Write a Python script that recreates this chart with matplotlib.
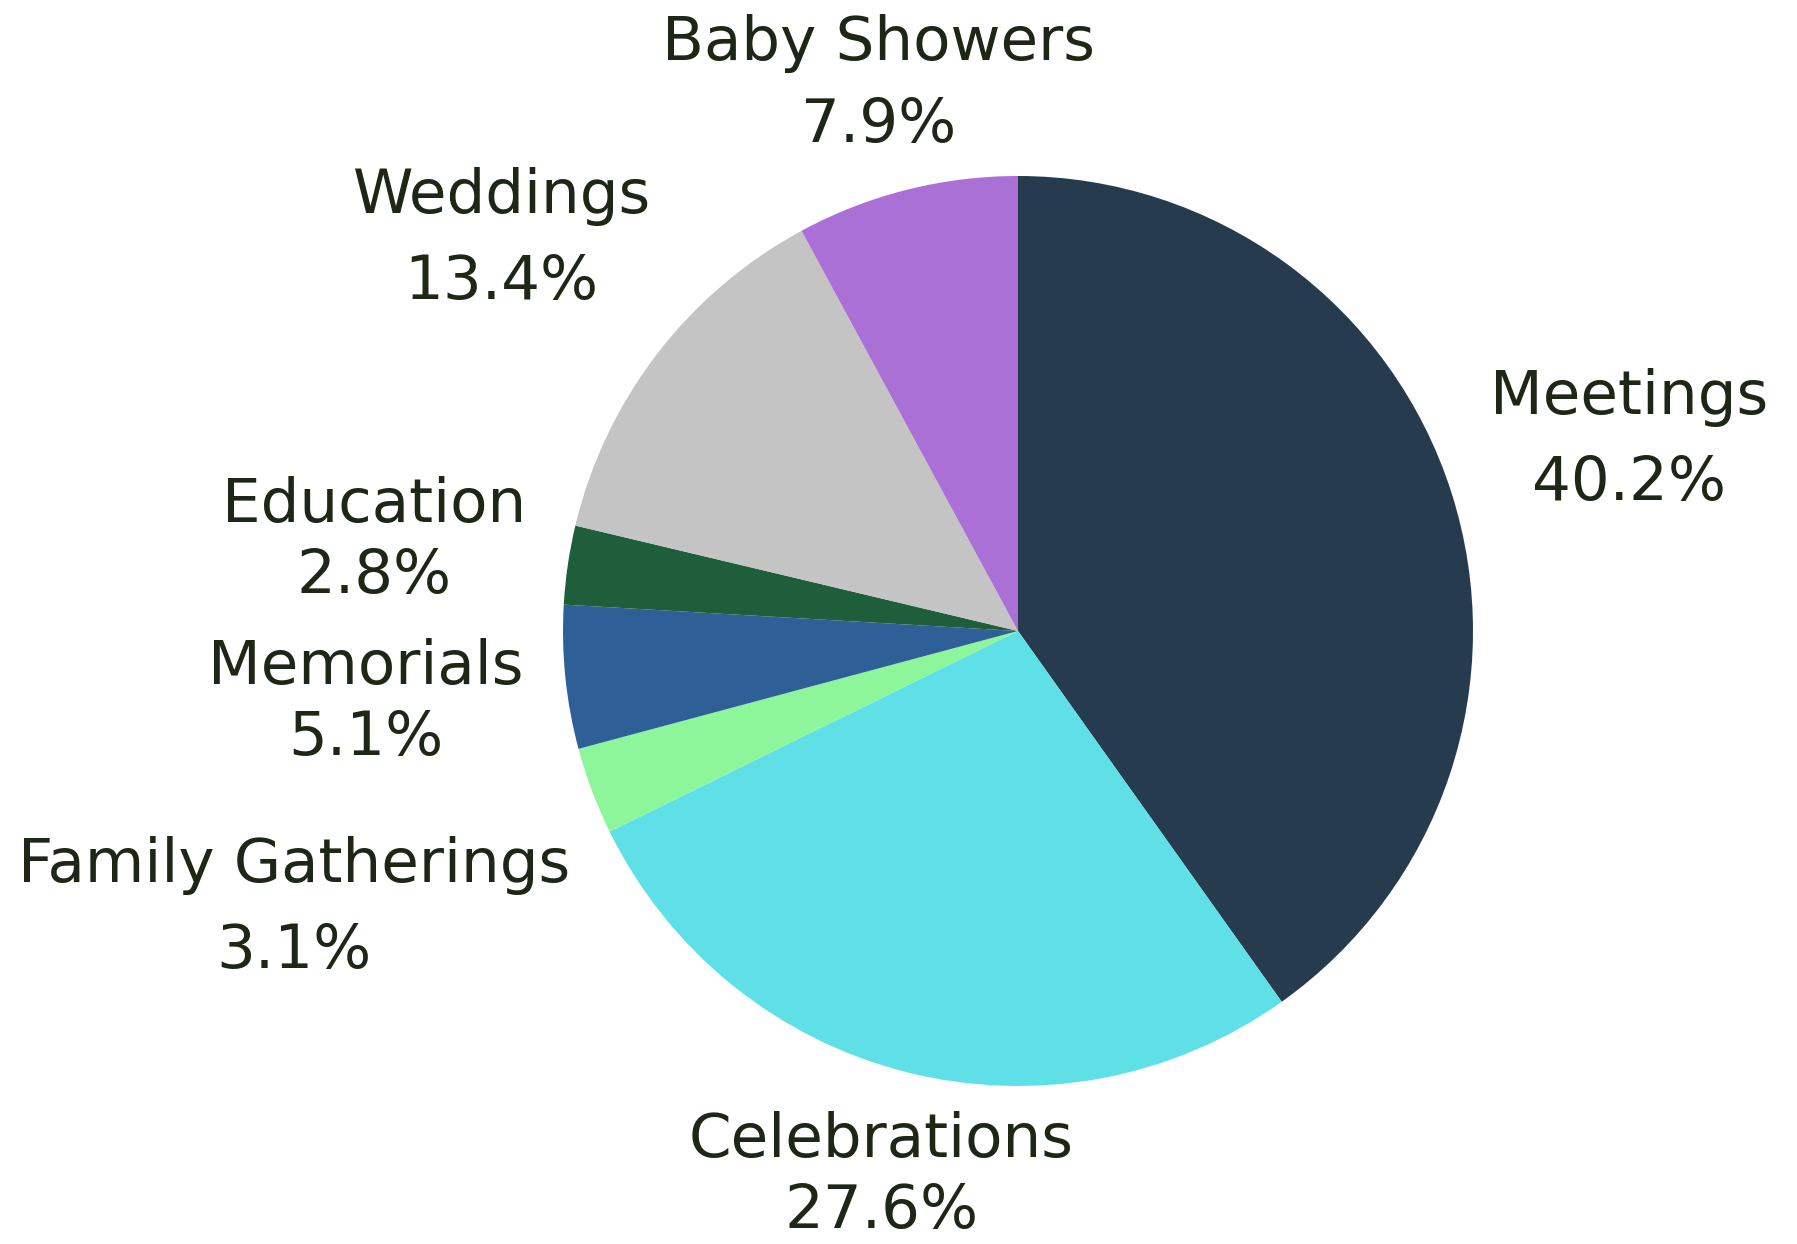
import numpy as np
import matplotlib
matplotlib.use("Agg")
import matplotlib.pyplot as plt

categories = ["Meetings", "Celebrations", "Family Gatherings", "Memorials",
              "Education", "Weddings", "Baby Showers"]
values = [40.2, 27.6, 3.1, 5.1, 2.8, 13.4, 7.9]
colors = ["#263c4e", "#5ee0e6", "#8df59a", "#2e6097", "#1e5e3a", "#c4c4c4", "#ab70d6"]

# label placement (style): distance factor and line gap per label
label_dist = [1.41, 1.225, 1.70, 1.44, 1.43, 1.43, 1.25]
label_gap = [0.189, 0.156, 0.189, 0.156, 0.156, 0.189, 0.181]

W, H = 1797, 1244
cx, cy, R = 1018, 631, 455
fig = plt.figure(figsize=(W / 100, H / 100), dpi=100)
ax = fig.add_axes([0, 0, 1, 1])
wedges, _ = ax.pie(values, colors=colors, startangle=90, counterclock=False,
                   radius=1, center=(0, 0))
ax.set_xlim(-cx / R, (W - cx) / R)
ax.set_ylim(-(H - cy) / R, cy / R)
ax.set_aspect("equal", adjustable="box")
ax.axis("off")

tc = "#1e2616"
for w, name, v, d, g in zip(wedges, categories, values, label_dist, label_gap):
    ang = np.deg2rad((w.theta1 + w.theta2) / 2)
    x, y = d * np.cos(ang), d * np.sin(ang) - 0.011
    ax.text(x, y + g / 2, name, ha="center", va="center", fontsize=44, color=tc)
    ax.text(x, y - g / 2, f"{v:.1f}%", ha="center", va="center", fontsize=44, color=tc)

fig.savefig("out.png", dpi=100)
